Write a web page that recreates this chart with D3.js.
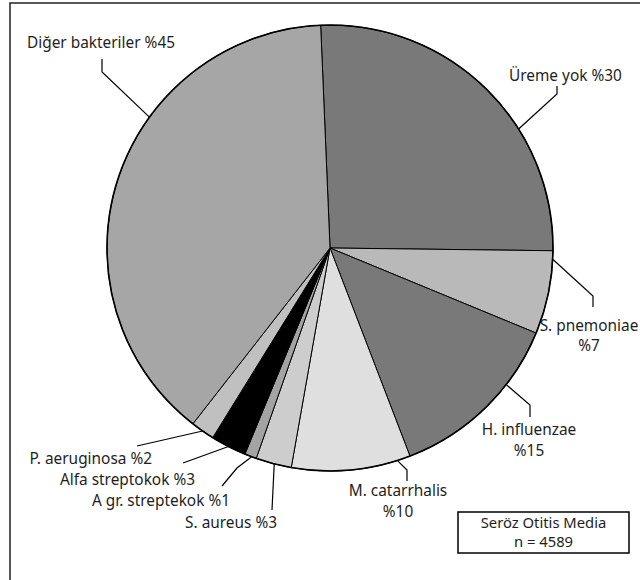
<!DOCTYPE html>
<html>
<head>
<meta charset="utf-8">
<script src="https://cdn.jsdelivr.net/npm/d3@7"></script>
<style>
  html, body { margin: 0; padding: 0; background: #fff; }
  svg { display: block; }
  text { font-family: "Noto Sans", "Open Sans", sans-serif; fill: #1e1e1e; }
</style>
</head>
<body>
<svg id="chart" width="640" height="580"></svg>
<script>
// Isolation results, Seröz Otitis Media (n = 4589)
const categories = ["Üreme yok", "S. pnemoniae", "H. influenzae", "M. catarrhalis",
                    "S. aureus", "A gr. streptekok", "Alfa streptokok", "P. aeruginosa",
                    "Diğer bakteriler"];
const values = [30, 7, 15, 10, 3, 1, 3, 2, 45];
const fills = ["#797979", "#b9b9b9", "#797979", "#dfdfdf", "#cdcdcd",
               "#a3a3a3", "#000000", "#c0c0c0", "#a6a6a6"];
const boxTitle = ["Seröz Otitis Media", "n = 4589"];

// Label layout: where the leader leaves the slice (fraction of its sweep),
// the bend points of the leader, and where the text lines sit.
const labelLayout = [
  { frac: 0.646, bends: [[557, 94], [557, 86]], anchor: "start",  x: 509, ys: [76] },
  { frac: 0.10,  bends: [[593, 296], [593, 307]], anchor: "middle", x: 589, ys: [326, 346] },
  { frac: 0.33,  bends: [[530, 405], [530, 417]], anchor: "middle", x: 529, ys: [430, 451] },
  { frac: 0.11,  bends: [[407, 470], [407, 481]], anchor: "middle", x: 398, ys: [491, 512] },
  { frac: 0.48,  bends: [[272, 510]], anchor: "end", x: 277, ys: [523] },
  { frac: 0.40,  bends: [[237, 468], [222, 486]], anchor: "end", x: 230, ys: [501] },
  { frac: 0.50,  bends: [[183, 463]], anchor: "end", x: 195, ys: [480] },
  { frac: 0.50,  bends: [[137, 446]], anchor: "end", x: 152, ys: [459] },
  { frac: 0.63,  bends: [[102, 72], [102, 59]], anchor: "start", x: 27, ys: [43] }
];
const twoLine = [false, true, true, true, false, false, false, false, false];

const svg = d3.select("#chart");
const cx = 330, cy = 248, radius = 223;
const fontSize = 15.4;

// outer frame
svg.append("rect")
  .attr("x", 10).attr("y", 3).attr("width", 700).attr("height", 700)
  .attr("fill", "none").attr("stroke", "#222").attr("stroke-width", 1.5);

const start = -2.4 * Math.PI / 180;
const pie = d3.pie().sort(null).startAngle(start).endAngle(start + 2 * Math.PI);
const arcs = pie(values);
const arc = d3.arc().innerRadius(0).outerRadius(radius);

const g = svg.append("g").attr("transform", `translate(${cx},${cy})`);

g.selectAll("path.slice")
  .data(arcs)
  .join("path")
  .attr("class", "slice")
  .attr("d", arc)
  .attr("fill", (d, i) => fills[i])
  .attr("stroke", "#000")
  .attr("stroke-width", 1)
  .attr("stroke-linejoin", "round");

g.append("circle")
  .attr("r", radius)
  .attr("fill", "none")
  .attr("stroke", "#000")
  .attr("stroke-width", 1.6);

// leaders and labels
const line = d3.line();
arcs.forEach((d, i) => {
  const L = labelLayout[i];
  const a = d.startAngle + (d.endAngle - d.startAngle) * L.frac;
  const p0 = [cx + radius * Math.sin(a), cy - radius * Math.cos(a)];
  svg.append("path")
    .attr("d", line([p0, ...L.bends]))
    .attr("fill", "none")
    .attr("stroke", "#000")
    .attr("stroke-width", 1.2);

  const lines = twoLine[i]
    ? [categories[i], "%" + values[i]]
    : [categories[i] + " %" + values[i]];
  lines.forEach((t, k) => {
    svg.append("text")
      .attr("x", L.x)
      .attr("y", L.ys[k])
      .attr("dy", "0.35em")
      .attr("text-anchor", L.anchor)
      .attr("font-size", fontSize)
      .text(t);
  });
});

// sample box
svg.append("rect")
  .attr("x", 458).attr("y", 512).attr("width", 171).attr("height", 41)
  .attr("fill", "#fff").attr("stroke", "#000").attr("stroke-width", 1.5);
boxTitle.forEach((t, k) => {
  svg.append("text")
    .attr("x", 543.5)
    .attr("y", 523 + k * 19)
    .attr("dy", "0.35em")
    .attr("text-anchor", "middle")
    .attr("font-size", 14.8)
    .text(t);
});
</script>
</body>
</html>
